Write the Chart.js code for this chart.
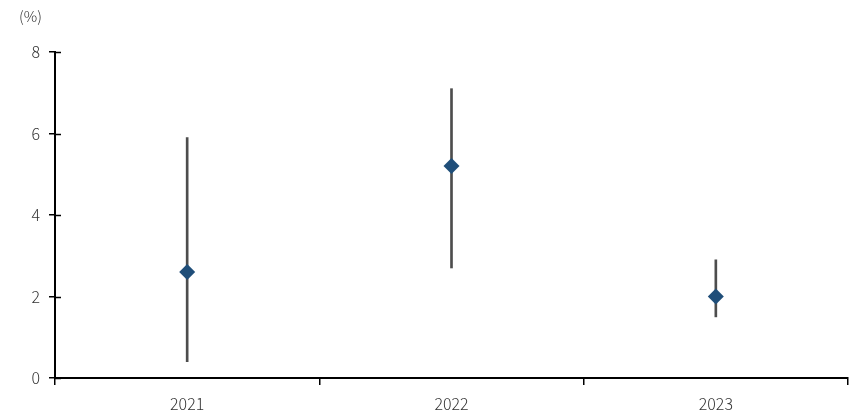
<!DOCTYPE html>
<html>
<head>
<meta charset="utf-8">
<script src="https://cdn.jsdelivr.net/npm/chart.js@4/dist/chart.umd.min.js"></script>
<style>
  html, body { margin: 0; padding: 0; background: #fff; }
  #wrap { width: 856px; height: 412px; }
</style>
</head>
<body>
<div id="wrap"><canvas id="chart"></canvas></div>
<script>
// 연도별 범위(최저~최고)와 중앙값
const years = ['2021', '2022', '2023'];
const lows = [0.4, 2.7, 1.5];
const highs = [5.9, 7.1, 2.9];
const mids = [2.6, 5.2, 2.0];
const yTicks = [0, 2, 4, 6, 8];

const FONT = "'Noto Sans CJK KR', 'Noto Sans', sans-serif";
const TEXT = '#333333';

// y축 눈금이 축선 안쪽으로도 조금 나오도록
const innerTicks = {
  id: 'innerTicks',
  afterDraw(chart) {
    const ctx = chart.ctx;
    const y = chart.scales.y;
    ctx.save();
    ctx.strokeStyle = '#000';
    ctx.lineWidth = 1.5;
    yTicks.forEach(v => {
      const py = Math.round(y.getPixelForValue(v)) + 0.5;
      ctx.beginPath();
      ctx.moveTo(y.right, py);
      ctx.lineTo(y.right + 6, py);
      ctx.stroke();
    });
    // 단위 표시
    ctx.fillStyle = TEXT;
    ctx.font = '300 15px ' + FONT;
    ctx.textBaseline = 'middle';
    ctx.fillText('(%)', 19, 16);
    ctx.restore();
  }
};

new Chart(document.getElementById('chart'), {
  type: 'bar',
  data: {
    labels: years,
    datasets: [
      {
        type: 'line',
        label: '중앙값',
        data: mids,
        showLine: false,
        pointStyle: 'rectRot',
        pointRadius: 8,
        pointHoverRadius: 8,
        backgroundColor: '#1f4e79',
        borderColor: '#1f4e79',
        borderWidth: 0,
        order: 0
      },
      {
        label: '범위',
        data: years.map((_, i) => [lows[i], highs[i]]),
        backgroundColor: '#4d4d4d',
        borderWidth: 0,
        barThickness: 2,
        grouped: false,
        order: 1
      }
    ]
  },
  options: {
    responsive: true,
    maintainAspectRatio: false,
    animation: false,
    layout: { padding: { top: 52, right: 2, left: 0, bottom: 0 } },
    plugins: {
      legend: { display: false },
      tooltip: { enabled: false }
    },
    scales: {
      x: {
        offset: true,
        grid: {
          offset: true,
          drawOnChartArea: false,
          drawTicks: true,
          tickLength: 7,
          color: '#000',
          lineWidth: 1.5
        },
        border: { color: '#000', width: 2 },
        ticks: {
          color: TEXT,
          font: { family: FONT, size: 16, weight: '300' },
          padding: 9
        },
        afterFit(scale) {
          scale.height = 34;
          scale.paddingLeft = 0;
          scale.paddingRight = 0;
        }
      },
      y: {
        min: 0,
        max: 8,
        afterBuildTicks(scale) { scale.ticks = yTicks.map(v => ({ value: v })); },
        grid: {
          drawOnChartArea: false,
          drawTicks: true,
          tickLength: 6,
          color: '#000',
          lineWidth: 1.5
        },
        border: { color: '#000', width: 2 },
        ticks: {
          color: TEXT,
          font: { family: FONT, size: 16, weight: '300' },
          padding: 9
        },
        afterFit(scale) { scale.width = 55; }
      }
    }
  },
  plugins: [innerTicks]
});
</script>
</body>
</html>
